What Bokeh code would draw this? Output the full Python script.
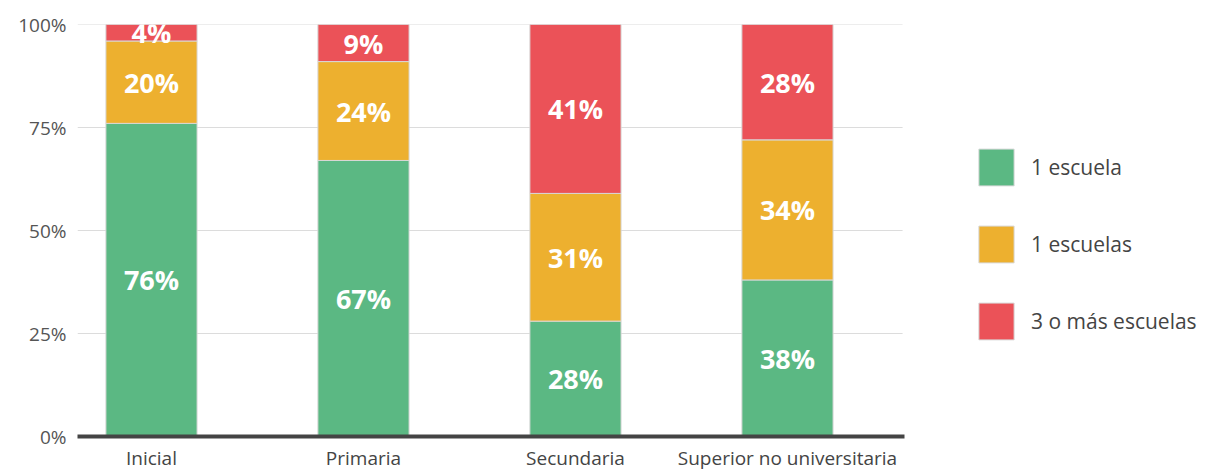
from bokeh.plotting import figure
from bokeh.models import ColumnDataSource, Range1d, FixedTicker, Legend, LegendItem
from bokeh.core.properties import value
from bokeh.embed import file_html
from bokeh.resources import INLINE

categories = ["Inicial", "Primaria", "Secundaria", "Superior no universitaria"]
una_escuela = [76, 67, 28, 38]
dos_escuelas = [20, 24, 31, 34]
tres_o_mas = [4, 9, 41, 28]
series_names = ["1 escuela", "1 escuelas", "3 o más escuelas"]
colors = ["#5BB883", "#EDB02F", "#EB5258"]
y_ticks = [0, 25, 50, 75, 100]

FONT = "Open Sans"
xs = list(range(len(categories)))

# layout: plotted region spans X_LO..X_HI, frame continues to the right for the legend
X_LO, X_HI, X_END = -0.349, 3.543, 5.019

src = ColumnDataSource(dict(x=xs, a=una_escuela, b=dos_escuelas, c=tres_o_mas))

p = figure(width=1215, height=473, output_backend="svg", toolbar_location=None,
           x_range=Range1d(X_LO, X_END), y_range=Range1d(0, 100),
           min_border_left=77, min_border_top=24, min_border_bottom=30, min_border_right=0)
p.outline_line_color = None
p.background_fill_color = "white"
p.border_fill_color = "white"

# horizontal grid lines limited to the plotted region
grid_y = [t for t in y_ticks if t > 0]
p.segment(x0=[X_LO] * len(grid_y), x1=[X_HI] * len(grid_y), y0=grid_y, y1=grid_y,
          line_color="#dcdcdc", line_width=1, level="underlay")

rs = p.vbar_stack(["a", "b", "c"], x="x", width=0.43, source=src, color=colors,
                  line_color="#d8d8d8", line_width=1)

# labels at segment centers
lx, ly, lt = [], [], []
for i in xs:
    base = 0
    for vals in (una_escuela, dos_escuelas, tres_o_mas):
        v = vals[i]
        lx.append(i)
        ly.append(base + v / 2)
        lt.append(f"{v}%")
        base += v
p.text(x=lx, y=ly, text=lt, text_align="center", text_baseline="middle",
       text_color="white", text_font=value(FONT), text_font_style="bold",
       text_font_size="27px")

# axes
p.xaxis.ticker = FixedTicker(ticks=xs)
p.xaxis.major_label_overrides = {i: c for i, c in zip(xs, categories)}
p.xaxis.bounds = (X_LO, X_HI + 0.01)
p.xaxis.axis_line_color = "#444444"
p.xaxis.axis_line_width = 4
p.xaxis.major_tick_line_color = None
p.xaxis.minor_tick_line_color = None
p.xaxis.major_label_standoff = 2
p.xaxis.major_label_text_font = FONT
p.xaxis.major_label_text_font_size = "19px"
p.xaxis.major_label_text_color = "#444444"

p.yaxis.ticker = FixedTicker(ticks=y_ticks)
p.yaxis.major_label_overrides = {t: f"{t}%" for t in y_ticks}
p.yaxis.axis_line_color = None
p.yaxis.major_tick_line_color = None
p.yaxis.minor_tick_line_color = None
p.yaxis.major_label_standoff = 5
p.yaxis.major_label_text_font = FONT
p.yaxis.major_label_text_font_size = "19px"
p.yaxis.major_label_text_color = "#555555"

p.xgrid.grid_line_color = None
p.ygrid.grid_line_color = None

legend = Legend(items=[LegendItem(label=n, renderers=[r]) for n, r in zip(series_names, rs)],
                location=(897, 92), orientation="vertical",
                glyph_width=44, glyph_height=46, spacing=31, label_standoff=13,
                padding=0, margin=0, border_line_color=None, background_fill_alpha=0,
                label_text_font=FONT, label_text_font_size="21px", label_text_color="#444444")
p.add_layout(legend)

open("out.html", "w").write(file_html(p, INLINE))
